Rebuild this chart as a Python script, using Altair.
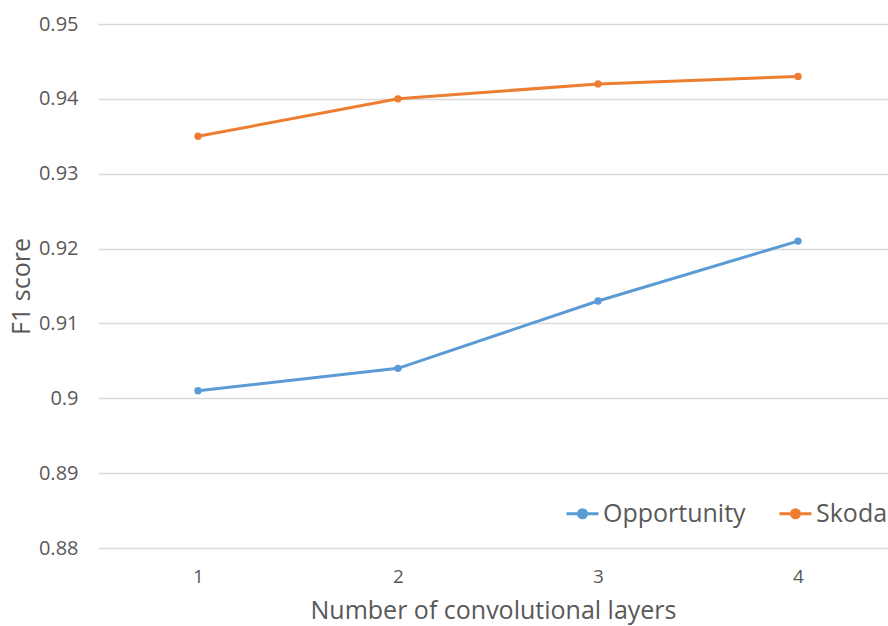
import altair as alt
import pandas as pd

layers = [1, 2, 3, 4]
opportunity = [0.901, 0.904, 0.913, 0.921]
skoda = [0.935, 0.940, 0.942, 0.943]
series_names = ["Opportunity", "Skoda"]
colors = ["#5B9BD5", "#ED7D31"]
y_ticks = [0.88, 0.89, 0.90, 0.91, 0.92, 0.93, 0.94, 0.95]

df = pd.DataFrame({
    "layers": layers * 2,
    "f1": opportunity + skoda,
    "series": [series_names[0]] * 4 + [series_names[1]] * 4,
})

FONT = "Open Sans"
GREY = "#595959"

legend_path = "M-1,0 L1,0 M-0.25,0 A0.25,0.25 0 1,0 0.25,0 A0.25,0.25 0 1,0 -0.25,0 Z"

base = alt.Chart(df).encode(
    x=alt.X("layers:Q",
            scale=alt.Scale(domain=[0.5, 4.45], nice=False, zero=False),
            axis=alt.Axis(values=layers, format="d", title="Number of convolutional layers",
                          grid=False, domain=False, ticks=False, labelPadding=19,
                          titlePadding=12, labelFontSize=19, titleFontSize=25,
                          labelFont=FONT, titleFont=FONT, labelColor=GREY,
                          titleColor=GREY, titleFontWeight="normal")),
    y=alt.Y("f1:Q",
            scale=alt.Scale(domain=[0.88, 0.95], nice=False, zero=False),
            axis=alt.Axis(values=y_ticks, format=".2~f", title="F1 score",
                          domain=False, ticks=False, labelPadding=20, titlePadding=4,
                          labelFontSize=20, titleFontSize=25,
                          labelFont=FONT, titleFont=FONT, labelColor=GREY,
                          titleColor=GREY, titleFontWeight="normal",
                          gridColor="#D9D9D9", gridWidth=1.3)),
    color=alt.Color("series:N",
                    scale=alt.Scale(domain=series_names, range=colors),
                    legend=alt.Legend(title=None, orient="none", direction="horizontal",
                                      legendX=467, legendY=472,
                                      symbolType=legend_path, symbolSize=1024,
                                      symbolStrokeWidth=3, labelFontSize=25,
                                      labelColor=GREY, labelFont=FONT,
                                      columnPadding=27, labelOffset=3, padding=0)),
)

lines = base.mark_line(strokeWidth=3)
points = base.mark_circle(size=55, opacity=1)

chart = (lines + points).properties(
    width=790, height=524,
    autosize=alt.AutoSizeParams(type="none"),
    padding={"left": 98, "top": 24, "right": 0, "bottom": 78},
).configure_view(stroke=None)

chart.save("out.html", embed_options={"renderer": "svg", "actions": False})
